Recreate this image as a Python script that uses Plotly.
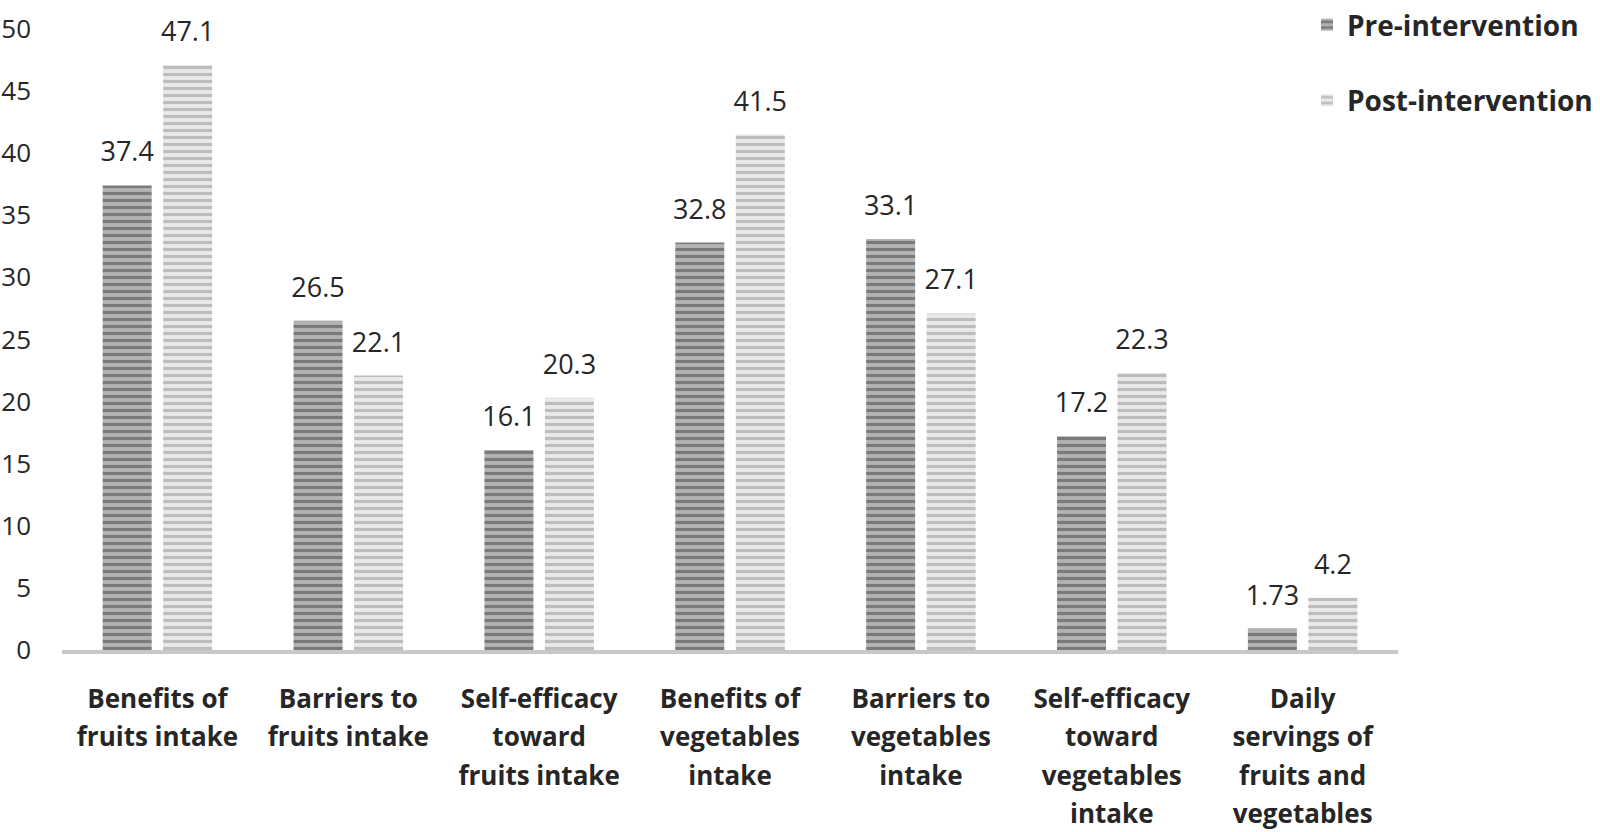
import plotly.graph_objects as go

categories = [
    "Benefits of<br>fruits intake",
    "Barriers to<br>fruits intake",
    "Self-efficacy<br>toward<br>fruits intake",
    "Benefits of<br>vegetables<br>intake",
    "Barriers to<br>vegetables<br>intake",
    "Self-efficacy<br>toward<br>vegetables<br>intake",
    "Daily<br>servings of<br>fruits and<br>vegetables",
]
pre_values = [37.4, 26.5, 16.1, 32.8, 33.1, 17.2, 1.73]
post_values = [47.1, 22.1, 20.3, 41.5, 27.1, 22.3, 4.2]
pre_labels = ["37.4", "26.5", "16.1", "32.8", "33.1", "17.2", "1.73"]
post_labels = ["47.1", "22.1", "20.3", "41.5", "27.1", "22.3", "4.2"]
y_ticks = [0, 5, 10, 15, 20, 25, 30, 35, 40, 45, 50]

FONT = "Open Sans"
TXT = "#262626"

# category tick text: visible glyphs at 26px, line spacing driven by a larger base font
tick_text = ["<br>".join(f"<span style='font-size:26px'>{line}</span>" for line in c.split("<br>"))
             for c in categories]

fig = go.Figure()
fig.add_trace(go.Bar(
    name="Pre-intervention", x=categories, y=pre_values, offsetgroup="pre",
    marker=dict(color="#b3b3b3", line=dict(width=0),
                pattern=dict(shape="-", fgcolor="#7a7a7a", bgcolor="#b3b3b3",
                             size=7, solidity=0.45, fillmode="replace")),
    legendgroup="a", hoverinfo="skip",
))
fig.add_trace(go.Bar(
    name="Post-intervention", x=categories, y=post_values, offsetgroup="post",
    marker=dict(color="#e9e9e9", line=dict(width=0),
                pattern=dict(shape="-", fgcolor="#bdbdbd", bgcolor="#e9e9e9",
                             size=7, solidity=0.45, fillmode="replace")),
    legendgroup="b", hoverinfo="skip",
))
# value labels
for vals, labs, grp in [(pre_values, pre_labels, "pre"), (post_values, post_labels, "post")]:
    fig.add_trace(go.Scatter(
        x=categories, y=vals, text=labs, mode="markers+text",
        textposition="top center", offsetgroup=grp, cliponaxis=False,
        marker=dict(size=26, color="rgba(0,0,0,0)"),
        textfont=dict(family=FONT, size=27, color=TXT),
        showlegend=False, hoverinfo="skip",
    ))

fig.update_layout(
    width=1600, height=832,
    paper_bgcolor="white", plot_bgcolor="white",
    margin=dict(l=62, r=0, t=0, b=182, autoexpand=False),
    barmode="group", bargap=0.366, bargroupgap=0.19,
    scattermode="group",
    font=dict(family=FONT, color=TXT),
    showlegend=True,
    legend=dict(x=0.8095, y=1.0, xanchor="left", yanchor="top",
                font=dict(family=FONT, size=28, color=TXT, weight="bold"),
                tracegroupgap=36, bgcolor="rgba(0,0,0,0)",
                itemwidth=30),
)
fig.update_xaxes(
    domain=[0, 0.8687],
    tickvals=categories, ticktext=tick_text,
    showline=True, linecolor="#c8c8c8", linewidth=4, showgrid=False,
    ticks="", tickfont=dict(family=FONT, size=29.7, color=TXT, weight="bold"),
    ticklabelstandoff=18, automargin=False,
)
fig.update_yaxes(
    domain=[0, 0.9554],
    range=[0, 50], tickvals=y_ticks, showgrid=False, zeroline=False,
    showline=False, ticks="", tickfont=dict(family=FONT, size=26, color=TXT),
    ticklabelstandoff=30, automargin=False,
)

fig.write_html("out.html", config={"displayModeBar": False},
               post_script="document.body.style.margin='0px';")
